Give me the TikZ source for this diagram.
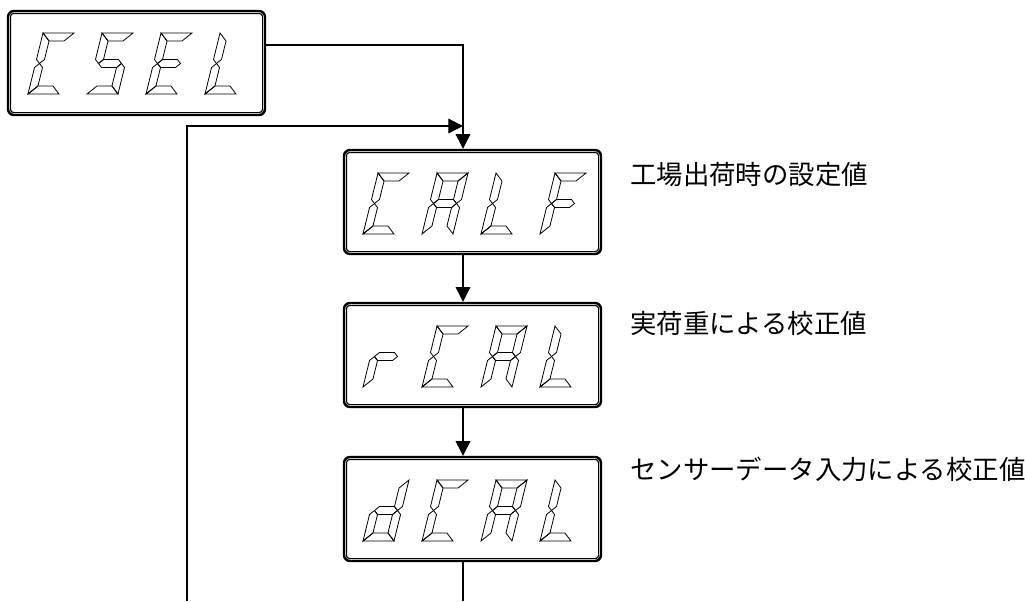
\documentclass[tikz,border=0pt]{standalone}
\usepackage{fontspec}
\newfontfamily\jpfont{Noto Sans CJK JP}
\usetikzlibrary{arrows.meta}
% seven-segment outlines (unslanted, origin bottom-left, y up, px)
\def\sega{(0,61)--(31,61)--(23,53)--(8,53)--cycle}
\def\segd{(0,0)--(31,0)--(23,8)--(8,8)--cycle}
\def\segf{(0,61)--(8,53)--(8,34.5)--(4,30.5)--(0,34.5)--cycle}
\def\sege{(0,0)--(8,8)--(8,26.5)--(4,30.5)--(0,26.5)--cycle}
\def\segb{(31,61)--(23,53)--(23,34.5)--(27,30.5)--(31,34.5)--cycle}
\def\segc{(31,0)--(23,8)--(23,26.5)--(27,30.5)--(31,26.5)--cycle}
\def\segg{(4,30.5)--(8,34.5)--(23,34.5)--(27,30.5)--(23,26.5)--(8,26.5)--cycle}
\newcommand\sevdig[3]{%
  \begin{scope}[shift={(#1,#2)}, y=0.75pt, xslant=0.246]
    \foreach \sg in {#3}{\edef\segtmp{\noexpand\draw[segline] \csname seg\sg\endcsname;}\segtmp}
  \end{scope}}
\newcommand\innerframe[1]{%
  \draw[line width=0.9pt, rounded corners=2.5pt] ([shift={(3.6,3.6)}]#1.north west) rectangle ([shift={(-3.6,-3.6)}]#1.south east);}
\begin{document}
\begin{tikzpicture}[x=0.75pt,y=-0.75pt,
  disp/.style={draw, line width=1.8pt, rounded corners=4.5pt, minimum width=192.75pt, minimum height=78pt, inner sep=0pt},
  segline/.style={line width=0.6pt, line join=miter},
  conn/.style={line width=0.9pt},
  arr/.style={conn, -{Triangle[length=11pt,width=11pt]}},
  lbl/.style={font=\jpfont\fontsize{19.8pt}{24pt}\selectfont, anchor=west, inner sep=0pt}]
\useasboundingbox (0,0) rectangle (1025,601);

% display boxes
\node[disp] (csel) at (136.5,63) {};
\node[disp] (calf) at (472.5,202) {};
\node[disp] (rcal) at (472.5,355) {};
\node[disp] (dcal) at (472.5,509) {};
\innerframe{csel}
\innerframe{calf}
\innerframe{rcal}
\innerframe{dcal}

% CSEL
\sevdig{28}{94}{a,d,e,f}
\sevdig{87}{94}{a,f,g,c,d}
\sevdig{146}{94}{a,d,e,f,g}
\sevdig{205}{94}{d,e,f}
% CALF
\sevdig{363}{234}{a,d,e,f}
\sevdig{422}{234}{a,b,c,e,f,g}
\sevdig{481}{234}{d,e,f}
\sevdig{540}{234}{a,e,f,g}
% rCAL
\sevdig{363}{387}{e,g}
\sevdig{422}{387}{a,d,e,f}
\sevdig{481}{387}{a,b,c,e,f,g}
\sevdig{540}{387}{d,e,f}
% dCAL
\sevdig{363}{541}{b,c,d,e,g}
\sevdig{422}{541}{a,d,e,f}
\sevdig{481}{541}{a,b,c,e,f,g}
\sevdig{540}{541}{d,e,f}

% connectors
\coordinate (j1) at (463,45);
\coordinate (bot) at (463,601);
\coordinate (lb) at (187,601);
\coordinate (lt) at (187,126);
\draw[arr] (csel.east |- j1) -- (j1) -- (calf.north -| j1);
\draw[arr] (calf.south -| j1) -- (rcal.north -| j1);
\draw[arr] (rcal.south -| j1) -- (dcal.north -| j1);
\draw[conn] (dcal.south -| j1) -- (bot);
\draw[arr] (lb) -- (lt) -- (lt -| j1);

% labels
\node[lbl] (t1) at (630,175) {工場出荷時の設定値};
\node[lbl] (t2) at (630,323.5) {実荷重による校正値};
\node[lbl] (t3) at (630,469) {センサーデータ入力による校正値};
\end{tikzpicture}
\end{document}
